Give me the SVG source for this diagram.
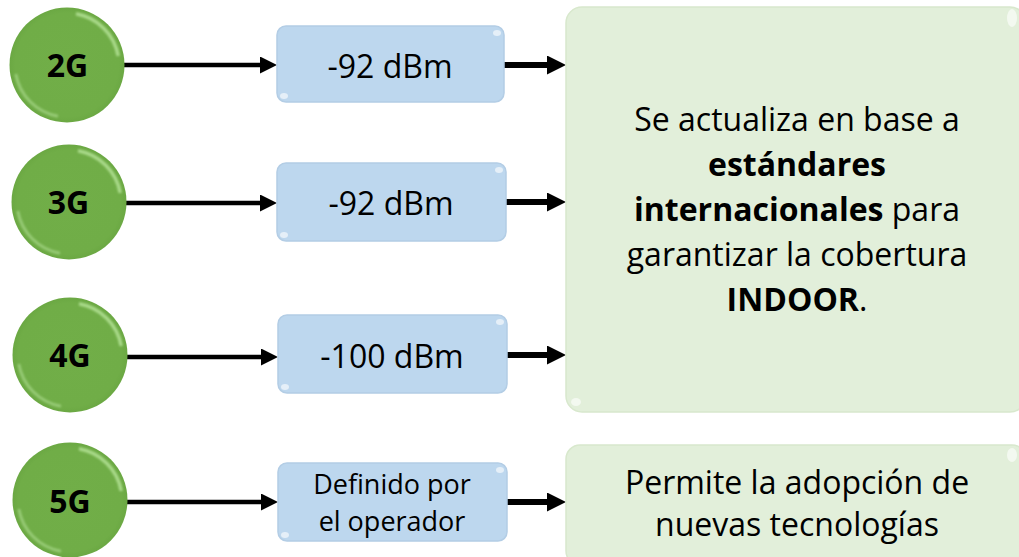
<svg xmlns="http://www.w3.org/2000/svg" width="1019" height="557" viewBox="0 0 1019 557">
  <style>
    text { font-family: "Open Sans", "Liberation Sans", sans-serif; fill: #000; }
    .lbl { font-size: 32px; font-weight: bold; text-anchor: middle; }
    .val { font-size: 32px; text-anchor: middle; }
    .small { font-size: 27px; text-anchor: middle; }
    .big { font-size: 32px; text-anchor: middle; }
    .b { font-weight: bold; }
    .blue { fill: #bdd7ee; stroke: #b3cde5; stroke-width: 1.5; }
    .green { fill: #e2efda; stroke: #d8e8cd; stroke-width: 1.5; }
    .thin { stroke: #000; stroke-width: 4.5; fill: none; }
    .thick { stroke: #000; stroke-width: 6; fill: none; }
    .hl { fill: #ffffff; opacity: 0.6; }
  </style>
  <defs>
    <radialGradient id="ballg" cx="0.5" cy="0.5" r="0.5">
      <stop offset="0" stop-color="#71ae48"/>
      <stop offset="0.9" stop-color="#70ad47"/>
      <stop offset="1" stop-color="#6ba843"/>
    </radialGradient>
    <filter id="soft" x="-20%" y="-20%" width="140%" height="140%">
      <feGaussianBlur stdDeviation="1.2"/>
    </filter>
    <g id="ball">
      <circle r="57.5" fill="url(#ballg)"/>
      <path d="M 9 -51.2 A 52 52 0 0 1 51.2 -9" stroke="#b4e296" stroke-width="3.5" fill="none" opacity="0.85" filter="url(#soft)"/>
      <path d="M -9 51.2 A 52 52 0 0 1 -51.2 9" stroke="#a8d88a" stroke-width="3" fill="none" opacity="0.7" filter="url(#soft)"/>
    </g>
    <marker id="ah1" viewBox="0 0 10 10" markerWidth="17" markerHeight="17" markerUnits="userSpaceOnUse" refX="0" refY="5" orient="auto">
      <path d="M0,0 L10,5 L0,10 z" fill="#000"/>
    </marker>
    <marker id="ah2" viewBox="0 0 10 10" markerWidth="19" markerHeight="19" markerUnits="userSpaceOnUse" refX="0" refY="5" orient="auto">
      <path d="M0,0 L10,5 L0,10 z" fill="#000"/>
    </marker>
  </defs>

  <g id="connectors">
    <line class="thin" x1="124" y1="65" x2="260" y2="65" marker-end="url(#ah1)"/>
    <line class="thin" x1="126" y1="203" x2="260" y2="203" marker-end="url(#ah1)"/>
    <line class="thin" x1="127" y1="357" x2="261" y2="357" marker-end="url(#ah1)"/>
    <line class="thin" x1="127" y1="502" x2="261" y2="502" marker-end="url(#ah1)"/>
    <line class="thick" x1="504" y1="65" x2="547" y2="65" marker-end="url(#ah2)"/>
    <line class="thick" x1="506" y1="202" x2="547" y2="202" marker-end="url(#ah2)"/>
    <line class="thick" x1="507" y1="355" x2="547" y2="355" marker-end="url(#ah2)"/>
    <line class="thick" x1="507" y1="502" x2="547" y2="502" marker-end="url(#ah2)"/>
  </g>

  <g id="n2g">
    <use href="#ball" x="67" y="65"/>
    <text class="lbl" x="67.5" y="77">2G</text>
  </g>
  <g id="n3g">
    <use href="#ball" x="69" y="202"/>
    <text class="lbl" x="68.5" y="214">3G</text>
  </g>
  <g id="n4g">
    <use href="#ball" x="70" y="355"/>
    <text class="lbl" x="70" y="367">4G</text>
  </g>
  <g id="n5g">
    <use href="#ball" x="70" y="500"/>
    <text class="lbl" x="70" y="513">5G</text>
  </g>

  <g id="v2g">
    <rect class="blue" x="277" y="26" width="227" height="76" rx="9"/>
    <ellipse class="hl" cx="497" cy="33" rx="4" ry="3"/>
    <ellipse class="hl" cx="284" cy="96" rx="4" ry="3"/>
    <text class="val" x="390" y="78">-92 dBm</text>
  </g>
  <g id="v3g">
    <rect class="blue" x="277" y="163" width="229" height="78" rx="9"/>
    <ellipse class="hl" cx="499" cy="170" rx="4" ry="3"/>
    <ellipse class="hl" cx="284" cy="235" rx="4" ry="3"/>
    <text class="val" x="391" y="215">-92 dBm</text>
  </g>
  <g id="v4g">
    <rect class="blue" x="278" y="315" width="229" height="78" rx="9"/>
    <ellipse class="hl" cx="500" cy="322" rx="4" ry="3"/>
    <ellipse class="hl" cx="285" cy="387" rx="4" ry="3"/>
    <text class="val" x="392" y="368">-100 dBm</text>
  </g>
  <g id="v5g">
    <rect class="blue" x="278" y="463" width="229" height="78" rx="9"/>
    <ellipse class="hl" cx="500" cy="470" rx="4" ry="3"/>
    <ellipse class="hl" cx="285" cy="535" rx="4" ry="3"/>
    <text class="small" x="392" y="494">Definido por</text>
    <text class="small" x="392" y="531">el operador</text>
  </g>

  <g id="indoor">
    <rect class="green" x="566" y="7" width="460" height="405" rx="16"/>
    <ellipse class="hl" cx="1012" cy="18" rx="5" ry="9"/>
    <ellipse class="hl" cx="576" cy="402" rx="5" ry="4"/>
    <text class="big" x="797" y="131">Se actualiza en base a</text>
    <text class="big b" x="797" y="176">estándares</text>
    <text class="big" x="797" y="221"><tspan class="b">internacionales</tspan> para</text>
    <text class="big" x="797" y="266">garantizar la cobertura</text>
    <text class="big" x="797" y="311"><tspan class="b">INDOOR</tspan>.</text>
  </g>

  <g id="nuevas">
    <rect class="green" x="566" y="445" width="460" height="120" rx="14"/>
    <ellipse class="hl" cx="1012" cy="455" rx="5" ry="7"/>
    <text class="big" x="797" y="494">Permite la adopción de</text>
    <text class="big" x="797" y="536">nuevas tecnologías</text>
  </g>
</svg>
